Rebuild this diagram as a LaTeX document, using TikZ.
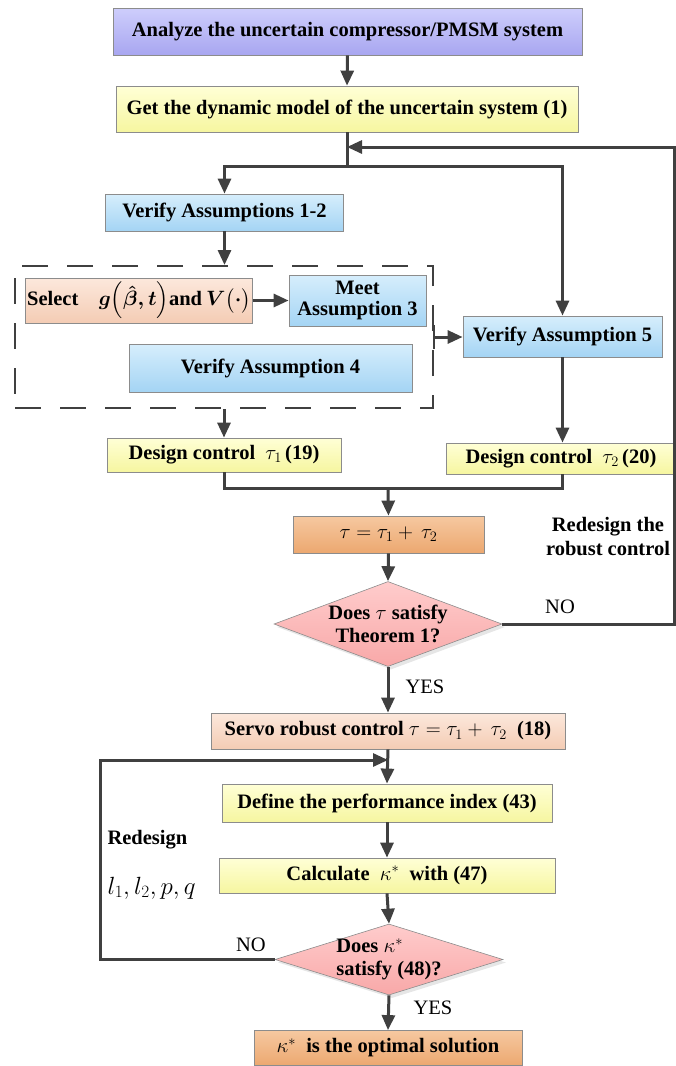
\documentclass[tikz,border=0pt]{standalone}
\usepackage{xcolor}
\usepackage{amsmath,amssymb}
\usepackage{fontspec}
\setmainfont{Liberation Serif}
\usepackage{tikz}
\usetikzlibrary{shapes.geometric,arrows.meta,shadows}

\definecolor{linegray}{HTML}{404040}
\definecolor{edgegray}{HTML}{8C8C8C}

\tikzset{
  box/.style={draw=edgegray,line width=0.8pt,rectangle,inner sep=2pt,
    font=\fontsize{20.5}{23}\selectfont\bfseries,align=center},
  lavbox/.style={box,top color={rgb,255:red,206;green,206;blue,252},bottom color={rgb,255:red,168;green,166;blue,240}},
  yelbox/.style={box,top color={rgb,255:red,255;green,255;blue,214},bottom color={rgb,255:red,246;green,246;blue,160}},
  bluebox/.style={box,top color={rgb,255:red,214;green,238;blue,252},bottom color={rgb,255:red,164;green,212;blue,244}},
  peachbox/.style={box,top color={rgb,255:red,252;green,232;blue,220},bottom color={rgb,255:red,244;green,204;blue,180}},
  orangebox/.style={box,top color={rgb,255:red,246;green,200;blue,160},bottom color={rgb,255:red,236;green,168;blue,112}},
  decision/.style={diamond,draw=edgegray,line width=0.6pt,inner sep=0pt,
    top color={rgb,255:red,255;green,204;blue,204},bottom color={rgb,255:red,248;green,168;blue,168},align=center,
    font=\fontsize{20.5}{23}\selectfont\bfseries,
    drop shadow={shadow xshift=3pt,shadow yshift=-3pt,opacity=0.2}},
  line/.style={draw=linegray,line width=3pt},
  arrow/.style={line,-{Triangle[length=15pt,width=13pt]}},
  txt/.style={font=\fontsize{20.5}{23}\selectfont},
}

\begin{document}
\begin{tikzpicture}[x=1pt,y=-1pt]
    \useasboundingbox (0,0) rectangle (676,1066);

    \node[lavbox,minimum width=469,minimum height=47] (analyze) at (347.5,31.5)
        {Analyze the uncertain compressor/PMSM system};
    \node[yelbox,minimum width=462,minimum height=46] (model) at (347,109)
        {Get the dynamic model of the uncertain system (1)};
    \node[bluebox,minimum width=238,minimum height=37] (verA12) at (224.5,212.5)
        {Verify Assumptions 1-2};
    \node[draw=linegray,line width=2pt,dash pattern=on 26pt off 19pt,
        minimum width=418,minimum height=142] (group) at (224,337) {};
    \node[peachbox,minimum width=224,minimum height=45] (select) at (139,300.5)
        {Select\quad{\mathversion{bold}$g\Bigl(\hat{\beta},t\Bigr)$}and{\mathversion{bold}$\,V\bigl(\cdot\bigr)$}};
    \node[bluebox,minimum width=137,minimum height=51,font=\fontsize{20.5}{21}\selectfont\bfseries] (meetA3) at (357.5,300.5)
        {Meet\\Assumption 3};
    \node[bluebox,minimum width=283,minimum height=48] (verA4) at (270.5,368)
        {Verify Assumption 4};
    \node[bluebox,minimum width=199,minimum height=41] (verA5) at (562.5,336.5)
        {Verify Assumption 5};
    \node[yelbox,minimum width=234,minimum height=34] (ctrlA) at (224,455)
        {Design control \ $\tau_1$\,(19)};
    \node[yelbox,minimum width=230,minimum height=31] (ctrlB) at (561,458.5)
        {Design control \ $\tau_2$\,(20)};
    \node[orangebox,minimum width=191,minimum height=37] (sum) at (388.5,534.5)
        {$\tau=\tau_1+\,\tau_2$};
    \node[decision,minimum width=228,minimum height=85,aspect=2.7,inner sep=-4pt] (thm) at (388,624)
        {Does $\tau$ satisfy\\Theorem 1?};
    \node[peachbox,minimum width=354,minimum height=36] (servo) at (388,731)
        {Servo robust control $\tau=\tau_1+\,\tau_2$ \ (18)};
    \node[yelbox,minimum width=330,minimum height=38] (index) at (387,803)
        {Define the performance index (43)};
    \node[yelbox,minimum width=336,minimum height=35] (calc) at (387,875.5)
        {Calculate \ $\kappa^*$ \ with (47)};
    \node[decision,minimum width=228,minimum height=71,aspect=3.2,align=left,
        inner sep=-10pt] (opt) at (389,959.5)
        {Does $\kappa^*$\\satisfy (48)?};
    \node[orangebox,minimum width=268,minimum height=35] (best) at (388,1048)
        {$\kappa^*$\ \ is the optimal solution};

    % labels
    \node[txt,font=\fontsize{20.5}{24}\selectfont\bfseries,align=center] (redo) at (608,537)
        {Redesign the\\robust control};
    \node[txt] (no1) at (560,607) {NO};
    \node[txt] (yes1) at (425,687) {YES};
    \node[txt,font=\fontsize{20.5}{23}\selectfont\bfseries,anchor=west] (redo2) at (104,840) {Redesign};
    \node[txt,font=\fontsize{24}{26}\selectfont,anchor=west] (params) at (104,888) {$l_1,l_2,p,q$};
    \node[txt] (no2) at (251,945) {NO};
    \node[txt] (yes2) at (433,1008) {YES};

    \coordinate (split) at (347,166);
    \coordinate (loopin) at (347,147);
    \coordinate (redge) at (674.5,147);
    \coordinate (join) at (388,488);
    \coordinate (loopin2) at (388,760);
    \coordinate (lcorner) at (100,760);

    \draw[arrow] (analyze.south) -- (model.north);
    \draw[line] (model.south) -- (split);
    \draw[arrow] (split) -| (verA12.north);
    \draw[arrow] (split) -| (verA5.north);
    \draw[arrow] (thm.east) -| (redge) -- (loopin);
    \draw[arrow] (verA12.south) -- (verA12.south |- group.north);
    \draw[arrow] (select.east) -- (meetA3.west);
    \draw[line,line width=2pt] (group.east) ++(0,-12) -- ++(0,24);
    \draw[arrow] (group.east) -- (verA5.west |- group.east);
    \draw[arrow] (group.south) -- (group.south |- ctrlA.north);
    \draw[arrow] (verA5.south) -- (verA5.south |- ctrlB.north);
    \draw[line] (ctrlA.south) |- (join);
    \draw[line] (ctrlB.south -| verA5.south) |- (join);
    \draw[arrow] (join) -- (sum.north);
    \draw[arrow] (sum.south) -- (thm.north);
    \draw[arrow] (thm.south) -- (servo.north);
    \draw[arrow] (servo.south) -- (index.north);
    \draw[arrow] (opt.west) -| (lcorner) -- (loopin2);
    \draw[arrow] (index.south) -- (calc.north);
    \draw[arrow] (calc.south) -- (opt.north);
    \draw[arrow] (opt.south) -- (best.north);
\end{tikzpicture}
\end{document}
